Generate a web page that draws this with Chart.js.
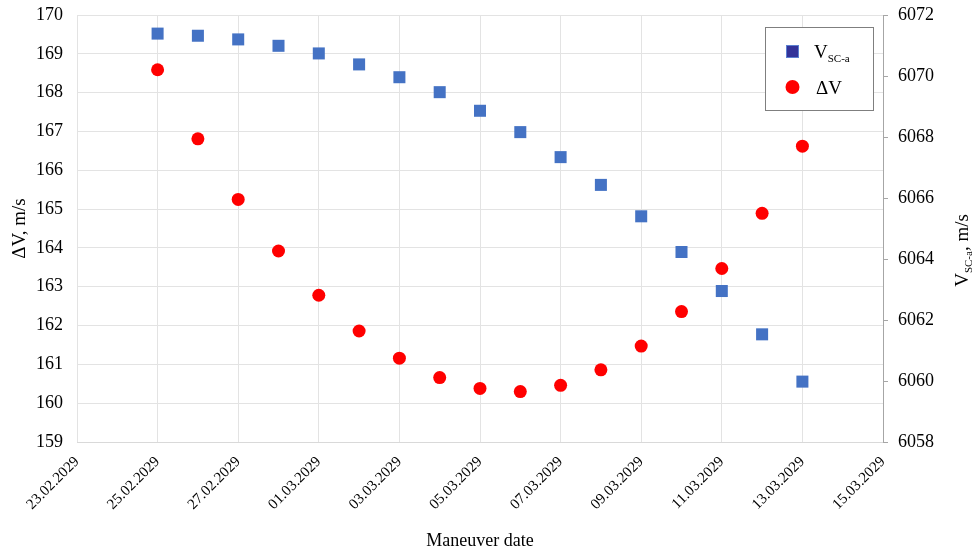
<!DOCTYPE html>
<html>
<head>
<meta charset="utf-8">
<script src="https://cdn.jsdelivr.net/npm/chart.js@4/dist/chart.umd.min.js"></script>
<style>
  html, body { margin: 0; padding: 0; background: #fff; }
  #wrap { width: 974px; height: 554px; position: relative; }
</style>
</head>
<body>
<div id="wrap"><canvas id="chart"></canvas></div>
<script>
// maneuver dates (one per day)
const dates = [
    '25.02.2029', '26.02.2029', '27.02.2029', '28.02.2029', '01.03.2029',
    '02.03.2029', '03.03.2029', '04.03.2029', '05.03.2029', '06.03.2029',
    '07.03.2029', '08.03.2029', '09.03.2029', '10.03.2029', '11.03.2029',
    '12.03.2029', '13.03.2029'
];
// V_SC-a, m/s (right axis)
const vScA = [
    6071.39, 6071.32, 6071.20, 6070.99, 6070.74, 6070.38, 6069.96, 6069.47, 6068.86,
    6068.16, 6067.34, 6066.43, 6065.40, 6064.23, 6062.95, 6061.53, 6059.98
];
// ΔV, m/s (left axis)
const deltaV = [
    168.59, 166.81, 165.25, 163.92, 162.78, 161.86, 161.16, 160.66, 160.38,
    160.30, 160.46, 160.86, 161.47, 162.36, 163.47, 164.89, 166.62
];
// x axis tick labels, every 2 days
const tickLabels = [
    '23.02.2029', '25.02.2029', '27.02.2029', '01.03.2029', '03.03.2029', '05.03.2029',
    '07.03.2029', '09.03.2029', '11.03.2029', '13.03.2029', '15.03.2029'
];

const FONT = '"Liberation Serif", "Times New Roman", serif';

function toUTC(s) {
    const [d, m, y] = s.split('.').map(Number);
    return Date.UTC(y, m - 1, d);
}
const t0 = toUTC(tickLabels[0]);
const dayOf = s => (toUTC(s) - t0) / 86400000;
const xMax = dayOf(tickLabels[tickLabels.length - 1]);

const vPoints = dates.map((d, i) => ({ x: dayOf(d), y: vScA[i] }));
const dvPoints = dates.map((d, i) => ({ x: dayOf(d), y: deltaV[i] }));

// fixed axis box sizes so the plot area lands where the original one is
function fitVertical(width) {
    return s => {
        s.width = width;
        s.paddingTop = 0;
        s.paddingBottom = 0;
    };
}

// legend box in the upper right corner + right axis title with subscript
const extras = {
    id: 'extras',
    afterDraw(chart) {
        const ctx = chart.ctx;
        const a = chart.chartArea;
        ctx.save();

        // legend
        const bx = a.right - 118, by = a.top + 12, bw = 108, bh = 83;
        ctx.fillStyle = '#fff';
        ctx.fillRect(bx, by, bw, bh);
        ctx.strokeStyle = '#7f7f7f';
        ctx.lineWidth = 1;
        ctx.strokeRect(bx + 0.5, by + 0.5, bw, bh);

        ctx.fillStyle = '#333399';
        ctx.strokeStyle = '#5b7fd0';
        ctx.fillRect(bx + 21, by + 18, 13, 13);
        ctx.strokeRect(bx + 21.5, by + 18.5, 12, 12);

        ctx.fillStyle = '#ff0000';
        ctx.beginPath();
        ctx.arc(bx + 27.5, by + 60, 7, 0, Math.PI * 2);
        ctx.fill();

        ctx.fillStyle = '#000';
        ctx.textBaseline = 'alphabetic';
        ctx.textAlign = 'left';
        ctx.font = '19px ' + FONT;
        ctx.fillText('V', bx + 49, by + 31);
        const vw = ctx.measureText('V').width;
        ctx.font = '11px ' + FONT;
        ctx.fillText('SC-a', bx + 49 + vw, by + 35);
        ctx.font = '19px ' + FONT;
        ctx.fillText('\u0394V', bx + 51, by + 67);

        // right axis title, reading bottom to top
        ctx.translate(a.right + 85, (a.top + a.bottom) / 2 + 22);
        ctx.rotate(-Math.PI / 2);
        ctx.font = '19px ' + FONT;
        const w1 = ctx.measureText('V').width;
        ctx.font = '11px ' + FONT;
        const w2 = ctx.measureText('SC-a').width;
        ctx.font = '19px ' + FONT;
        const w3 = ctx.measureText(', m/s').width;
        let x = -(w1 + w2 + w3) / 2;
        ctx.fillText('V', x, 0);
        x += w1;
        ctx.font = '11px ' + FONT;
        ctx.fillText('SC-a', x, 4);
        x += w2;
        ctx.font = '19px ' + FONT;
        ctx.fillText(', m/s', x, 0);
        ctx.restore();
    }
};

const ctx = document.getElementById('chart').getContext('2d');
new Chart(ctx, {
    type: 'scatter',
    data: {
        datasets: [{
            label: 'V SC-a',
            data: vPoints,
            yAxisID: 'y1',
            pointStyle: 'rect',
            pointRadius: 8.5,
            pointHoverRadius: 8.5,
            backgroundColor: '#4472c4',
            borderColor: '#4472c4',
            borderWidth: 0
        }, {
            label: '\u0394V',
            data: dvPoints,
            yAxisID: 'y',
            pointStyle: 'circle',
            pointRadius: 6.5,
            pointHoverRadius: 6.5,
            backgroundColor: '#ff0000',
            borderColor: '#ff0000',
            borderWidth: 0
        }]
    },
    options: {
        responsive: true,
        maintainAspectRatio: false,
        animation: false,
        layout: { padding: { top: 15, left: 0, right: 0, bottom: 0 } },
        plugins: {
            legend: { display: false },
            tooltip: { enabled: false }
        },
        scales: {
            x: {
                type: 'linear',
                min: 0,
                max: xMax,
                afterFit: s => { s.height = 112; },
                ticks: {
                    stepSize: 2,
                    minRotation: 45,
                    maxRotation: 45,
                    padding: 11,
                    color: '#000',
                    font: { family: FONT, size: 15 },
                    callback: v => tickLabels[v / 2]
                },
                grid: { color: '#e3e3e3', drawTicks: false },
                border: { color: '#d9d9d9' },
                title: {
                    display: true,
                    text: 'Maneuver date',
                    color: '#000',
                    font: { family: FONT, size: 18 },
                    padding: { top: 0, bottom: 2 }
                }
            },
            y: {
                position: 'left',
                min: 159,
                max: 170,
                afterFit: fitVertical(77),
                ticks: {
                    stepSize: 1,
                    padding: 14,
                    color: '#000',
                    font: { family: FONT, size: 18 }
                },
                grid: { color: '#e3e3e3', drawTicks: false },
                border: { display: false },
                title: {
                    display: true,
                    text: '\u0394V, m/s',
                    color: '#000',
                    font: { family: FONT, size: 19 },
                    padding: { top: 9, bottom: 0 }
                }
            },
            y1: {
                position: 'right',
                min: 6058,
                max: 6072,
                afterFit: fitVertical(91),
                ticks: {
                    stepSize: 2,
                    padding: 10,
                    color: '#000',
                    font: { family: FONT, size: 18 },
                    callback: v => String(v)
                },
                grid: { drawOnChartArea: false, drawTicks: true, tickLength: 5, color: '#a6a6a6' },
                border: { color: '#a6a6a6' }
            }
        }
    },
    plugins: [extras]
});
</script>
</body>
</html>
